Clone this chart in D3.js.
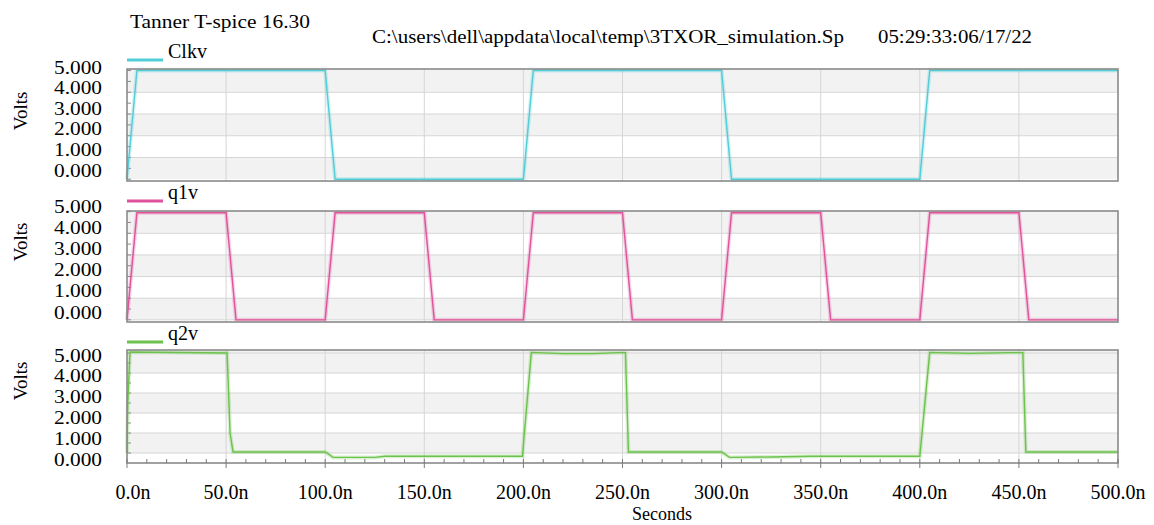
<!DOCTYPE html>
<html><head><meta charset="utf-8">
<script src="https://cdn.jsdelivr.net/npm/d3@7/dist/d3.min.js"></script>
<style>
body{margin:0;background:#fff;}
svg{display:block;font-family:"Liberation Serif","Times New Roman",serif;}
</style>
</head><body>
<svg id="c" width="1154" height="525"></svg>
<script>
// ---------- data ----------
const timeTicks = [0,50,100,150,200,250,300,350,400,450,500];
const timeTickLabels = ["0.0n","50.0n","100.0n","150.0n","200.0n","250.0n","300.0n","350.0n","400.0n","450.0n","500.0n"];
const voltTicks = [0,1,2,3,4,5];
const voltTickLabels = ["0.000","1.000","2.000","3.000","4.000","5.000"];
const signalNames = ["Clkv","q1v","q2v"];
const signalColors = ["#52cdd6","#e0529c","#6cc24c"];

// time in ns, value in volts
const clkT = [0,0.3,5,100,105,200,205,300,305,400,405,500];
const clkV = [0,0.3,5,5,0,0,5,5,0,0,5,5];

const q1T = [0,0.3,5,50,55,100,105,150,155,200,205,250,255,300,305,350,355,400,405,450,455,500];
const q1V = [0,0.3,4.95,4.95,0,0,4.95,4.95,0,0,4.95,4.95,0,0,4.95,4.95,0,0,4.95,4.95,0,0];

const q2T = [0,0.4,1.5,50.5,52,53.5,100,104,125,130,199.5,204,220,235,248,251.5,253,300,304,325,345,400,405,425,445,452,453.5,500];
const q2V = [0,2.5,5.05,5.0,1.0,0.05,0.05,-0.22,-0.22,-0.16,-0.16,5.03,4.97,4.97,5.02,5.02,0.05,0.05,-0.22,-0.2,-0.16,-0.16,5.03,4.98,5.02,5.02,0.05,0.05];

const signals = [
  {t: clkT, v: clkV},
  {t: q1T, v: q1V},
  {t: q2T, v: q2V}
];

const titleLeft = "Tanner T-spice 16.30";
const titlePath = "C:\\users\\dell\\appdata\\local\\temp\\3TXOR_simulation.Sp";
const titleDate = "05:29:33:06/17/22";
const xTitle = "Seconds";
const yTitle = "Volts";

// ---------- layout ----------
const svg = d3.select("#c");
const x = d3.scaleLinear().domain([0,500]).range([127,1118]);

const panels = [
  {top:69,  bottom:181, domain:[-0.08,5.07], labelRange:[170,67], legendY:60,  volts:111},
  {top:211, bottom:322, domain:[-0.1,5.03],  labelRange:[312,206], legendY:201, volts:242},
  {top:350, bottom:463, domain:[-0.5,5.15],  labelRange:[459,355], legendY:342, volts:381}
];

// titles
svg.append("text").attr("x",130).attr("y",28).attr("font-size",18)
  .attr("textLength",180).attr("lengthAdjust","spacingAndGlyphs").text(titleLeft);
svg.append("text").attr("x",372).attr("y",43).attr("font-size",18)
  .attr("textLength",472).attr("lengthAdjust","spacingAndGlyphs").text(titlePath);
svg.append("text").attr("x",878).attr("y",43).attr("font-size",18)
  .attr("textLength",154).attr("lengthAdjust","spacingAndGlyphs").text(titleDate);

panels.forEach((p, i) => {
  const y = d3.scaleLinear().domain(p.domain).range([p.bottom, p.top]);
  const yl = d3.scaleLinear().domain([0,5]).range(p.labelRange);
  const g = svg.append("g");

  // alternating bands
  const bounds = [p.top, y(4), y(3), y(2), y(1), y(0), p.bottom];
  for (let k = 0; k < bounds.length - 1; k++) {
    g.append("rect").attr("x", x(0)).attr("y", bounds[k])
      .attr("width", x(500) - x(0)).attr("height", Math.max(0, bounds[k+1] - bounds[k]))
      .attr("fill", k % 2 === 0 ? "#f2f2f2" : "#ffffff");
  }
  // horizontal gridlines
  g.selectAll(".hg").data(voltTicks.filter(v => y(v) > p.top + 2 && y(v) < p.bottom - 2)).join("line")
    .attr("x1", x(0)).attr("x2", x(500))
    .attr("y1", d => y(d)).attr("y2", d => y(d))
    .attr("stroke", "#d6d6d6").attr("stroke-width", 1);
  // vertical gridlines
  g.selectAll(".vg").data(timeTicks.slice(1, -1)).join("line")
    .attr("x1", d => x(d)).attr("x2", d => x(d))
    .attr("y1", p.top).attr("y2", p.bottom)
    .attr("stroke", "#d6d6d6").attr("stroke-width", 1);

  // left minor ticks
  g.selectAll(".lt").data(d3.range(0, 5.01, 0.5)).join("line")
    .attr("x1", x(0)).attr("x2", x(0) + 4)
    .attr("y1", d => y(d)).attr("y2", d => y(d))
    .attr("stroke", "#8a8a8a").attr("stroke-width", 1);

  // signal
  const s = signals[i];
  const pts = s.t.map((t, k) => [t, s.v[k]]);
  const line = d3.line().x(d => x(d[0])).y(d => y(d[1]));
  g.append("path").attr("d", line(pts)).attr("fill", "none")
    .attr("stroke", signalColors[i]).attr("stroke-opacity", 0.25).attr("stroke-width", 4);
  g.append("path").attr("d", line(pts)).attr("fill", "none")
    .attr("stroke", signalColors[i]).attr("stroke-width", 1.4);

  // border
  g.append("rect").attr("x", x(0)).attr("y", p.top)
    .attr("width", x(500) - x(0)).attr("height", p.bottom - p.top)
    .attr("fill", "none").attr("stroke", "#8a8a8a").attr("stroke-width", 1.6);

  // y tick labels
  g.selectAll(".yl").data(voltTicks).join("text")
    .attr("x", 102).attr("y", d => yl(d)).attr("dy", "0.35em")
    .attr("text-anchor", "end").attr("font-size", 19)
    .attr("textLength", 48).attr("lengthAdjust", "spacingAndGlyphs")
    .text((d, k) => voltTickLabels[k]);

  // y title
  g.append("text").attr("transform", `translate(27,${p.volts}) rotate(-90)`)
    .attr("text-anchor", "middle").attr("font-size", 19).text(yTitle);

  // legend
  g.append("line").attr("x1", 127).attr("x2", 163)
    .attr("y1", p.legendY).attr("y2", p.legendY)
    .attr("stroke", signalColors[i]).attr("stroke-width", 3);
  g.append("text").attr("x", 168).attr("y", p.legendY - 2)
    .attr("font-size", 20).text(signalNames[i]);

  // bottom axis ticks on last panel
  if (i === panels.length - 1) {
    g.selectAll(".mt").data(d3.range(10, 500, 10).filter(t => t % 50 !== 0)).join("line")
      .attr("x1", d => x(d)).attr("x2", d => x(d))
      .attr("y1", p.bottom).attr("y2", p.bottom - 4)
      .attr("stroke", "#7a7a7a").attr("stroke-width", 1);
    g.selectAll(".Mt").data(timeTicks).join("line")
      .attr("x1", d => x(d)).attr("x2", d => x(d))
      .attr("y1", p.bottom - 4).attr("y2", p.bottom + 5)
      .attr("stroke", "#7a7a7a").attr("stroke-width", 1);
    g.selectAll(".xl").data(timeTicks).join("text")
      .attr("x", d => x(d) + (d === 0 ? 6 : 0)).attr("y", 499)
      .attr("text-anchor", "middle").attr("font-size", 20)
      .text((d, k) => timeTickLabels[k]);
  }
});

svg.append("text").attr("x", 662).attr("y", 520).attr("text-anchor", "middle")
  .attr("font-size", 18).text(xTitle);
</script>
</body></html>
